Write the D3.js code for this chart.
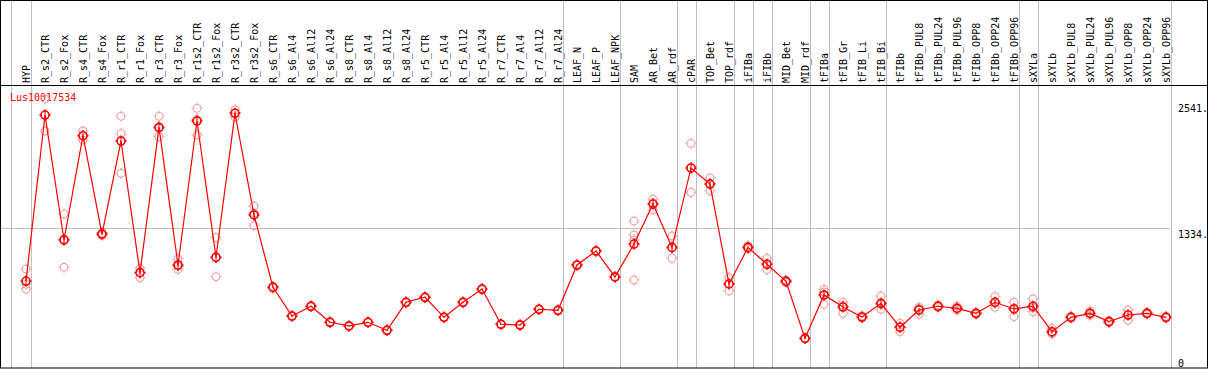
<!DOCTYPE html>
<html>
<head>
<meta charset="utf-8">
<script src="https://cdn.jsdelivr.net/npm/d3@7"></script>
<style>
  body { margin: 0; background: #fff; }
  svg text { font-family: "DejaVu Sans Mono", monospace; font-size: 10px; }
</style>
</head>
<body>
<svg id="chart" width="1209" height="370"></svg>
<script>
const geneName = "Lus10017534";

const categories = ["HYP", "R_s2_CTR", "R_s2_Fox", "R_s4_CTR", "R_s4_Fox", "R_r1_CTR", "R_r1_Fox",
  "R_r3_CTR", "R_r3_Fox", "R_r1s2_CTR", "R_r1s2_Fox", "R_r3s2_CTR", "R_r3s2_Fox",
  "R_s6_CTR", "R_s6_Al4", "R_s6_Al12", "R_s6_Al24", "R_s8_CTR", "R_s8_Al4", "R_s8_Al12", "R_s8_Al24",
  "R_r5_CTR", "R_r5_Al4", "R_r5_Al12", "R_r5_Al24", "R_r7_CTR", "R_r7_Al4", "R_r7_Al12", "R_r7_Al24",
  "LEAF_N", "LEAF_P", "LEAF_NPK", "SAM", "AR_Bet", "AR_rdf", "cPAR", "TOP_Bet", "TOP_rdf",
  "iFIBa", "iFIBb", "MID_Bet", "MID_rdf", "tFIBa", "tFIB_Gr", "tFIB_Li", "tFIB_Bi", "tFIBb",
  "tFIBb_PUL8", "tFIBb_PUL24", "tFIBb_PUL96", "tFIBb_OPP8", "tFIBb_OPP24", "tFIBb_OPP96",
  "sXYLa", "sXYLb", "sXYLb_PUL8", "sXYLb_PUL24", "sXYLb_PUL96", "sXYLb_OPP8", "sXYLb_OPP24", "sXYLb_OPP96"];

// mean expression per sample
const means = [825, 2418, 1219, 2220, 1276, 2169, 905, 2300, 979, 2361, 1053, 2435, 1459,
  765, 489, 583, 429, 394, 429, 352, 621, 669, 477, 621, 748, 410, 403, 554, 544,
  979, 1113, 864, 1180, 1564, 1148, 1910, 1756, 797, 1148, 986, 822, 275,
  691, 576, 480, 611, 381, 547, 583, 563, 515, 621, 557,
  583, 339, 477, 515, 435, 499, 515, 477];

// replicate values per sample (same order as categories)
const replicates = [
  [940, 794, 748], [2572, 2418, 2265], [1468, 1230, 957], [2265, 2220, 2178], [1290, 1276, 1262],
  [2406, 2240, 1859], [947, 910, 857], [2406, 2290, 2211], [1037, 965, 937], [2483, 2375, 2226],
  [1242, 1050, 867], [2469, 2437, 2399], [1545, 1475, 1356],
  [775, 755], [495, 483], [590, 576], [435, 423], [400, 388], [435, 423], [358, 346], [628, 614],
  [676, 662], [483, 471], [628, 614], [755, 741], [416, 404], [409, 397], [560, 548], [550, 538],
  [985, 973], [1119, 1107], [870, 858], [1401, 1267, 1219, 835], [1609, 1575, 1507], [1257, 1145, 1043],
  [2146, 1910, 1676], [1814, 1760, 1692], [857, 800, 732], [1165, 1148, 1132], [1043, 985, 934],
  [835, 822, 810], [280, 270], [745, 720, 602], [621, 590, 515], [490, 480, 470], [681, 600, 554],
  [419, 385, 339], [573, 560, 506], [595, 583, 570], [583, 563, 544], [525, 515, 505],
  [675, 615, 573], [621, 567, 483], [653, 565, 531], [371, 330, 317], [487, 477, 467],
  [537, 515, 494], [445, 435, 425], [547, 502, 448], [525, 515, 505], [487, 477, 467]];

// group separators are drawn after these samples
const groupEnds = ["HYP", "R_r7_Al24", "LEAF_NPK", "AR_rdf", "cPAR", "TOP_rdf", "iFIBa", "iFIBb",
  "MID_rdf", "tFIBa", "tFIB_Bi", "tFIBb_OPP96", "sXYLa", "sXYLb_OPP96"];

const tickValues = [0, 1334, 2541];
const tickLabels = ["0", "1334.", "2541."];
const refLine = 1334;

const headerBottom = 85, plotBottom = 367;

const svg = d3.select("#chart");

const x = d3.scalePoint()
  .domain(categories)
  .range([26, 1166]);

const y = d3.scaleLinear()
  .domain([0, 1334])
  .range([plotBottom, 228]);

// vertical group separators
const sepX = [x(categories[0]) - 15].concat(groupEnds.map(c => x(c) + 5));
svg.selectAll(".sep").data(sepX).enter().append("line")
  .attr("x1", d => Math.round(d) + 0.5)
  .attr("x2", d => Math.round(d) + 0.5)
  .attr("y1", 0)
  .attr("y2", plotBottom + 1)
  .attr("stroke", "#c0c0c0")
  .attr("stroke-width", 1);

// horizontal reference line
svg.append("line")
  .attr("x1", 1)
  .attr("x2", 1170)
  .attr("y1", Math.round(y(refLine)) + 0.5)
  .attr("y2", Math.round(y(refLine)) + 0.5)
  .attr("stroke", "#c0c0c0");

// frame and header line
svg.append("rect")
  .attr("x", 0.5).attr("y", 0.5)
  .attr("width", 1207).attr("height", plotBottom + 0.5)
  .attr("fill", "none").attr("stroke", "#000");
svg.append("line")
  .attr("x1", 0).attr("x2", 1208)
  .attr("y1", headerBottom + 0.5).attr("y2", headerBottom + 0.5)
  .attr("stroke", "#000");

// rotated sample labels
svg.selectAll(".lab").data(categories).enter().append("text")
  .attr("transform", d => `translate(${x(d) + 4},83) rotate(-90)`)
  .attr("fill", "#000")
  .text(d => d);

// right axis labels
const axis = d3.axisRight(y)
  .tickValues(tickValues)
  .tickFormat((d, i) => tickLabels[i])
  .tickSize(0)
  .tickPadding(0);
const gAxis = svg.append("g")
  .attr("transform", "translate(1178,0)")
  .call(axis);
gAxis.select(".domain").remove();
gAxis.selectAll("text")
  .attr("font-family", "DejaVu Sans Mono")
  .attr("font-size", 10)
  .attr("fill", "#000")
  .attr("x", 0)
  .attr("dy", null)
  .attr("y", d => Math.min(9, plotBottom - 1 - y(d)));

// gene name
svg.append("text")
  .attr("x", 10)
  .attr("y", 101)
  .attr("fill", "#ff0000")
  .text(geneName);

// marker: circle with four little ticks
function marker(g, r) {
  g.append("circle").attr("r", r);
  g.append("path").attr("d", `M0,${-r - 1.5}V${-r}M0,${r}V${r + 1.5}M${-r - 1.5},0H${-r}M${r},0H${r + 1.5}`);
}

// replicate points
const repData = [];
replicates.forEach((reps, i) => reps.forEach(v => repData.push({ c: categories[i], v: v })));
svg.selectAll(".rep").data(repData).enter().append("g")
  .attr("transform", d => `translate(${x(d.c)},${y(d.v)})`)
  .attr("fill", "none")
  .attr("stroke", "#f09a9a")
  .attr("stroke-width", 1)
  .each(function() { marker(d3.select(this), 4); });

// mean line
const line = d3.line()
  .x((d, i) => x(categories[i]))
  .y(d => y(d));
svg.append("path")
  .datum(means)
  .attr("d", line)
  .attr("fill", "none")
  .attr("stroke", "#ff0000")
  .attr("stroke-width", 1.2);

// short error ticks (kept inside the marker, as in the original)
const se = replicates.map(r => r.length > 1 ? d3.deviation(r) / Math.sqrt(r.length) : 0);
svg.selectAll(".err").data(means).enter().append("line")
  .attr("x1", (d, i) => x(categories[i]))
  .attr("x2", (d, i) => x(categories[i]))
  .attr("y1", (d, i) => Math.max(y(d + se[i]), y(d) - 5))
  .attr("y2", (d, i) => Math.min(y(d - se[i]), y(d) + 5))
  .attr("stroke", "#ff0000")
  .attr("stroke-width", 1);

// mean points
svg.selectAll(".mean").data(means).enter().append("g")
  .attr("transform", (d, i) => `translate(${x(categories[i])},${y(d)})`)
  .attr("fill", "none")
  .attr("stroke", "#ff0000")
  .attr("stroke-width", 1.6)
  .each(function() { marker(d3.select(this), 4); });
</script>
</body>
</html>
